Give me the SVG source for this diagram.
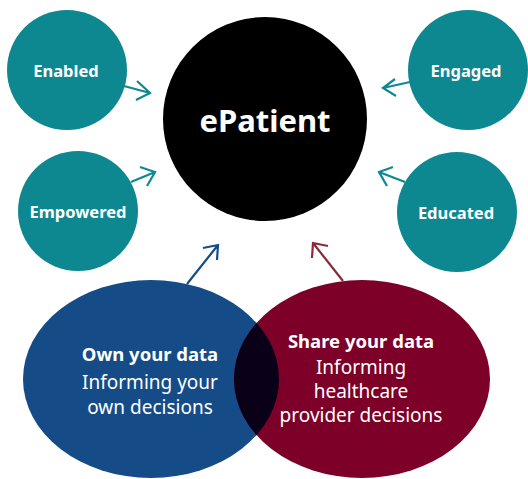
<svg xmlns="http://www.w3.org/2000/svg" width="528" height="479" viewBox="0 0 528 479">
<style>
.teal{fill:#0e8890}
.lbl{font-family:"Noto Sans","Open Sans",sans-serif;font-weight:bold;fill:#fff;text-anchor:middle}
.reg{font-family:"Noto Sans","Open Sans",sans-serif;fill:#fff;text-anchor:middle;font-size:19px}
.arr{fill:none;stroke-width:2.2}
</style>
<rect width="528" height="479" fill="#fff"/>
<g id="ePatient">
<circle cx="265" cy="119" r="102" fill="#000"/>
<text class="lbl" x="265" y="132" font-size="31">ePatient</text>
</g>
<g id="enabled">
<circle class="teal" cx="67" cy="70" r="60"/>
<text class="lbl" x="66" y="77" font-size="16.5">Enabled</text>
</g>
<g id="engaged">
<circle class="teal" cx="468" cy="70" r="60"/>
<text class="lbl" x="466" y="77" font-size="16.5">Engaged</text>
</g>
<g id="empowered">
<circle class="teal" cx="78" cy="211" r="60"/>
<text class="lbl" x="78" y="218" font-size="16.5">Empowered</text>
</g>
<g id="educated">
<circle class="teal" cx="457" cy="212" r="60"/>
<text class="lbl" x="456" y="219" font-size="16.5">Educated</text>
</g>
<g id="own-data">
<ellipse cx="151" cy="379" rx="128" ry="99" fill="#154c87"/>
</g>
<g id="share-data">
<ellipse cx="362" cy="379" rx="128" ry="99" fill="#7d0028"/>
</g>
<g id="overlap">
<clipPath id="clipBlue"><ellipse cx="151" cy="379" rx="128" ry="99"/></clipPath>
<ellipse cx="362" cy="379" rx="128" ry="99" fill="#0a0018" clip-path="url(#clipBlue)"/>
</g>
<g id="own-text">
<text class="lbl" x="150" y="361" font-size="18.5">Own your data</text>
<text class="reg" x="150" y="389">Informing your</text>
<text class="reg" x="150" y="414">own decisions</text>
</g>
<g id="share-text">
<text class="lbl" x="361" y="348" font-size="18.5">Share your data</text>
<text class="reg" x="361" y="374">Informing</text>
<text class="reg" x="361" y="398">healthcare</text>
<text class="reg" x="361" y="422">provider decisions</text>
</g>
<g id="connectors">
<g stroke="#0e8890" class="arr">
<path d="M124 86 L150 93 M137 81 L150 93 L136 100"/>
<path d="M131 182 L155 172 M140 167 L155 172 L147 186"/>
<path d="M410 82 L383 88 M395 79 L383 88 L396 96"/>
<path d="M405 182 L379 172 M387 186 L379 172 L393 167"/>
</g>
<path class="arr" stroke="#154c87" d="M187 284 L218 245 M203 248 L218 245 L217 260"/>
<path class="arr" stroke="#8a2a35" d="M343 281 L313 243 M312 258 L313 243 L328 246"/>
</g>
</svg>
